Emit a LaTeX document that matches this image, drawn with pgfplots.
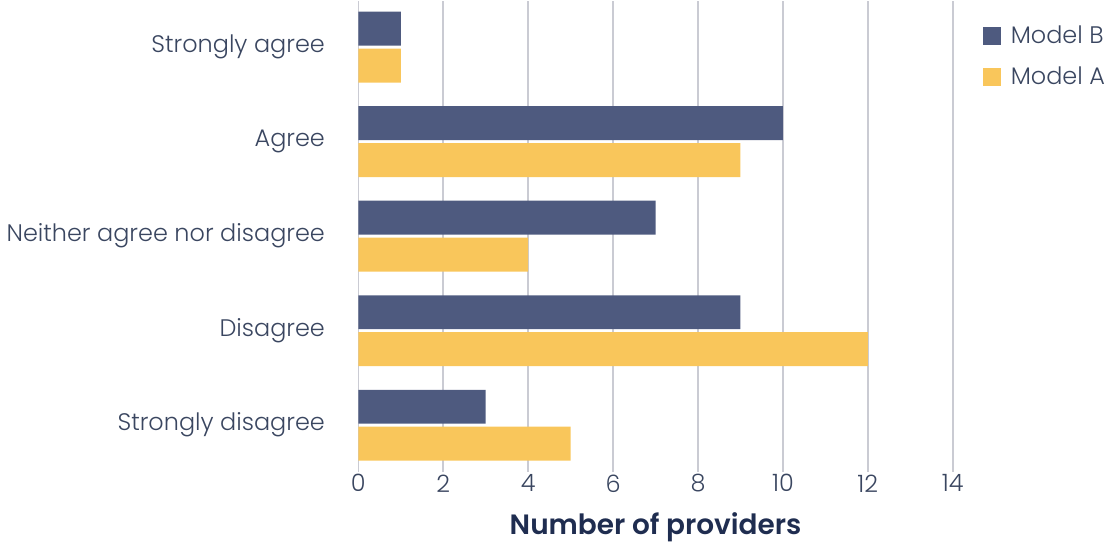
\documentclass[border=0pt]{standalone}
\usepackage{pgfplots}
\pgfplotsset{compat=1.18}
\usepackage{fontspec}
\setmainfont{Poppins Light}[BoldFont={Poppins SemiBold}]
\definecolor{navy}{HTML}{4E5A7F}
\definecolor{gold}{HTML}{F9C65B}
\definecolor{txt}{HTML}{3A4660}
\definecolor{labc}{HTML}{1F2D50}
\definecolor{gridc}{HTML}{CACBD3}
\begin{document}
\begin{tikzpicture}
\begin{axis}[
    xbar,
    scale only axis,
    width=298pt, height=236pt,
    bar width=17pt,
    xmin=0, xmax=14,
    ymin=-0.49, ymax=4.49,
    xtick={0,2,...,14},
    ytick={0,1,2,3,4},
    yticklabels={Strongly disagree, Disagree, Neither agree nor disagree, Agree, Strongly agree},
    axis line style={draw=none},
    major tick style={draw=none},
    xmajorgrids,
    grid style={gridc, line width=0.8pt},
    tick label style={font=\fontsize{12}{14}\selectfont, text=txt},
    /pgf/number format/assume math mode=true,
    yticklabel shift=9pt,
    xticklabel shift=-2pt,
    xlabel={\textbf{Number of providers}},
    xlabel style={font=\fontsize{14}{16}\selectfont, text=labc, yshift=-3pt},
    legend style={at={(1.04,0.965)}, anchor=north west, draw=none, fill=none,
        font=\fontsize{12}{14}\selectfont, text=txt, row sep=6pt,
        /tikz/every odd column/.append style={column sep=3pt}},
    legend cell align=left,
    legend image code/.code={\fill[#1] (0pt,-4.5pt) rectangle (9pt,4.5pt);},
]
\addplot[fill=navy, draw=none, bar shift=9.25pt] coordinates {
    (3,0) (9,1) (7,2) (10,3) (1,4)
};
\addplot[fill=gold, draw=none, bar shift=-9.25pt] coordinates {
    (5,0) (12,1) (4,2) (9,3) (1,4)
};
\legend{Model B, Model A}
\end{axis}
\end{tikzpicture}
\end{document}
